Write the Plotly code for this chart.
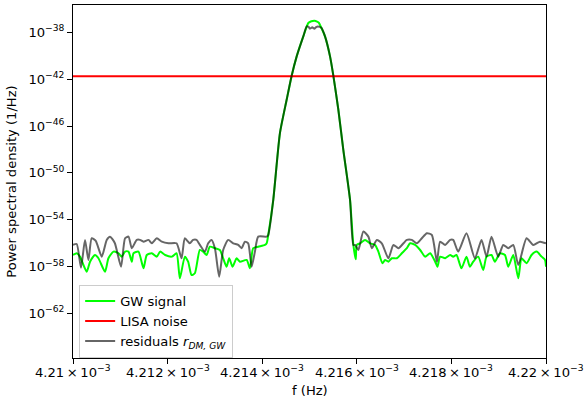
import plotly.graph_objects as go

# ---------------- data ----------------
# GW signal: frequency (Hz) and log10 PSD (1/Hz)
gw_freq = [
    4.210000e-3, 4.210078e-3, 4.210148e-3, 4.210290e-3, 4.210360e-3, 4.210466e-3, 4.210538e-3,
    4.210677e-3, 4.210749e-3, 4.210855e-3, 4.210961e-3, 4.211031e-3, 4.211101e-3, 4.211173e-3,
    4.211243e-3, 4.211279e-3, 4.211384e-3, 4.211490e-3, 4.211560e-3, 4.211666e-3, 4.211772e-3,
    4.211842e-3, 4.211948e-3, 4.212089e-3, 4.212189e-3, 4.212259e-3, 4.212365e-3, 4.212434e-3,
    4.212506e-3, 4.212576e-3, 4.212682e-3, 4.212752e-3, 4.212824e-3, 4.212894e-3, 4.213000e-3,
    4.213105e-3, 4.213175e-3, 4.213247e-3, 4.213302e-3, 4.213374e-3, 4.213459e-3, 4.213529e-3,
    4.213671e-3, 4.213740e-3, 4.213810e-3, 4.213916e-3, 4.214058e-3, 4.214094e-3, 4.214128e-3,
    4.214234e-3, 4.214375e-3, 4.214517e-3, 4.214623e-3, 4.214729e-3, 4.214869e-3, 4.214975e-3,
    4.215040e-3, 4.215102e-3, 4.215160e-3, 4.215201e-3, 4.215250e-3, 4.215328e-3, 4.215434e-3,
    4.215504e-3, 4.215610e-3, 4.215715e-3, 4.215857e-3, 4.215927e-3, 4.215978e-3, 4.215999e-3,
    4.216069e-3, 4.216175e-3, 4.216281e-3, 4.216387e-3, 4.216456e-3, 4.216541e-3, 4.216598e-3,
    4.216668e-3, 4.216740e-3, 4.216846e-3, 4.216952e-3, 4.217058e-3, 4.217127e-3, 4.217233e-3,
    4.217339e-3, 4.217445e-3, 4.217551e-3, 4.217657e-3, 4.217705e-3, 4.217762e-3, 4.217868e-3,
    4.217974e-3, 4.218038e-3, 4.218108e-3, 4.218213e-3, 4.218319e-3, 4.218391e-3, 4.218461e-3,
    4.218567e-3, 4.218673e-3, 4.218743e-3, 4.218848e-3, 4.218920e-3, 4.219026e-3, 4.219132e-3,
    4.219202e-3, 4.219308e-3, 4.219414e-3, 4.219484e-3, 4.219589e-3, 4.219695e-3, 4.219801e-3,
    4.219907e-3, 4.219979e-3, 4.220000e-3,
]
gw_log10_psd = [
    -57.02, -56.87, -57.16, -58.45, -57.59, -57.02, -57.30,
    -58.45, -57.30, -56.73, -56.87, -57.16, -56.73, -56.73,
    -57.59, -56.87, -56.73, -58.15, -57.02, -56.87, -57.16,
    -56.73, -57.02, -57.16, -56.87, -59.01, -57.16, -57.59,
    -58.73, -58.58, -56.59, -56.73, -57.02, -56.31, -56.44,
    -56.59, -57.30, -58.02, -57.30, -58.02, -57.30, -57.59,
    -57.44, -58.15, -56.44, -56.31, -56.16, -56.02, -55.31,
    -52.31, -46.61, -43.76, -41.70, -40.05, -38.34, -37.20,
    -37.05, -37.00, -37.08, -37.20, -37.60, -38.34, -40.05,
    -41.70, -44.61, -48.03, -52.31, -56.16, -57.38, -56.16,
    -56.02, -55.73, -56.02, -56.16, -56.73, -57.73, -57.44,
    -57.59, -57.30, -57.30, -56.87, -56.44, -56.02, -56.16,
    -56.59, -57.16, -56.87, -57.59, -58.02, -57.16, -57.30,
    -57.02, -57.16, -57.02, -58.15, -57.16, -58.02, -57.59,
    -57.16, -58.30, -57.16, -57.02, -57.59, -56.87, -57.02,
    -58.02, -57.02, -59.01, -57.30, -57.73, -57.02, -56.73,
    -57.16, -57.44, -58.02,
]

# LISA noise level (flat)
lisa_freq = [4.210e-3, 4.220e-3]
lisa_psd = [1.8e-42, 1.8e-42]

# residuals r_DM,GW
res_freq = [
    4.210000e-3, 4.210078e-3, 4.210169e-3, 4.210254e-3, 4.210326e-3, 4.210396e-3, 4.210481e-3,
    4.210608e-3, 4.210713e-3, 4.210783e-3, 4.210883e-3, 4.211016e-3, 4.211101e-3, 4.211173e-3,
    4.211243e-3, 4.211348e-3, 4.211418e-3, 4.211490e-3, 4.211596e-3, 4.211666e-3, 4.211772e-3,
    4.211878e-3, 4.212019e-3, 4.212189e-3, 4.212295e-3, 4.212365e-3, 4.212470e-3, 4.212540e-3,
    4.212612e-3, 4.212682e-3, 4.212788e-3, 4.212858e-3, 4.212930e-3, 4.213000e-3, 4.213091e-3,
    4.213175e-3, 4.213281e-3, 4.213387e-3, 4.213493e-3, 4.213565e-3, 4.213635e-3, 4.213704e-3,
    4.213776e-3, 4.213846e-3, 4.213916e-3, 4.214094e-3, 4.214128e-3, 4.214234e-3, 4.214375e-3,
    4.214517e-3, 4.214623e-3, 4.214729e-3, 4.214869e-3, 4.214941e-3, 4.214985e-3, 4.215011e-3,
    4.215059e-3, 4.215102e-3, 4.215140e-3, 4.215174e-3, 4.215250e-3, 4.215328e-3, 4.215434e-3,
    4.215504e-3, 4.215610e-3, 4.215715e-3, 4.215857e-3, 4.215927e-3, 4.215963e-3, 4.216033e-3,
    4.216139e-3, 4.216245e-3, 4.216317e-3, 4.216423e-3, 4.216528e-3, 4.216668e-3, 4.216774e-3,
    4.216880e-3, 4.216986e-3, 4.217058e-3, 4.217163e-3, 4.217269e-3, 4.217375e-3, 4.217481e-3,
    4.217587e-3, 4.217693e-3, 4.217762e-3, 4.217868e-3, 4.217974e-3, 4.218038e-3, 4.218143e-3,
    4.218319e-3, 4.218497e-3, 4.218637e-3, 4.218743e-3, 4.218848e-3, 4.218990e-3, 4.219096e-3,
    4.219202e-3, 4.219308e-3, 4.219414e-3, 4.219589e-3, 4.219731e-3, 4.219873e-3, 4.220000e-3,
]
res_log10_psd = [
    -56.16, -56.08, -58.10, -55.73, -57.44, -55.59, -55.82,
    -57.16, -55.73, -55.45, -55.99, -58.02, -55.59, -55.45,
    -56.44, -55.73, -55.73, -55.88, -55.73, -56.02, -55.59,
    -55.88, -56.02, -56.02, -57.30, -55.59, -56.02, -55.73,
    -55.73, -56.16, -56.73, -56.02, -55.73, -56.44, -58.87,
    -56.59, -55.73, -56.02, -56.16, -56.44, -55.88, -56.02,
    -58.02, -56.73, -55.45, -55.45, -55.31, -52.31, -46.61,
    -43.76, -41.70, -40.05, -38.34, -37.49, -37.55, -37.68,
    -37.57, -37.68, -37.55, -37.49, -37.60, -38.34, -40.05,
    -41.70, -44.61, -48.03, -52.31, -56.16, -56.16, -56.59,
    -55.02, -55.45, -56.44, -55.73, -56.02, -57.30, -56.16,
    -56.44, -56.02, -55.73, -55.73, -56.02, -55.59, -55.16,
    -55.31, -57.59, -55.88, -56.16, -55.73, -55.73, -56.73,
    -55.16, -57.30, -55.73, -57.16, -55.45, -57.16, -56.16,
    -56.44, -56.16, -57.87, -55.59, -56.16, -55.88, -56.02,
]

x_tickvals = [4.210e-3, 4.212e-3, 4.214e-3, 4.216e-3, 4.218e-3, 4.220e-3]
x_ticktext = ["4.21", "4.212", "4.214", "4.216", "4.218", "4.22"]
y_tick_exponents = [-38, -42, -46, -50, -54, -58, -62]

# ---------------- figure ----------------
FONT = "DejaVu Sans"
FS = 13.1

fig = go.Figure()
fig.add_trace(go.Scatter(
    x=gw_freq, y=[10 ** v for v in gw_log10_psd], mode="lines",
    name="GW signal", line=dict(color="#00ff00", width=2, shape="spline", smoothing=0.6)))
fig.add_trace(go.Scatter(
    x=lisa_freq, y=lisa_psd, mode="lines",
    name="LISA noise", line=dict(color="#ff0000", width=2)))
fig.add_trace(go.Scatter(
    x=res_freq, y=[10 ** v for v in res_log10_psd], mode="lines",
    name="residuals <i>r</i><sub><i>DM, GW</i></sub>",
    line=dict(color="rgba(0,0,0,0.6)", width=2, shape="spline", smoothing=0.6)))

# x tick labels as text annotations centred under each tick
annotations = []
for v, t in zip(x_tickvals, x_ticktext):
    annotations.append(dict(
        x=v, xref="x", y=0, yref="paper", xanchor="center", yanchor="middle",
        yshift=-13, showarrow=False, text=t + "\u2009×\u200910<sup>−3</sup>",
        font=dict(family=FONT, size=FS, color="black")))
annotations.append(dict(
    x=0.5, xref="paper", y=0, yref="paper", xanchor="center", yanchor="middle",
    yshift=-32, showarrow=False, text="f (Hz)",
    font=dict(family=FONT, size=FS, color="black")))

fig.update_layout(
    width=584, height=398,
    margin=dict(l=73, r=38, t=5, b=40, autoexpand=False),
    plot_bgcolor="white", paper_bgcolor="white",
    font=dict(family=FONT, size=FS, color="black"),
    showlegend=True,
    legend=dict(
        x=0.013, y=0.0, xanchor="left", yanchor="bottom",
        bgcolor="rgba(255,255,255,0.8)", bordercolor="#cccccc", borderwidth=1,
        font=dict(family=FONT, size=FS), tracegroupgap=0,
    ),
    annotations=annotations,
)

fig.update_xaxes(
    range=[4.210e-3, 4.220e-3],
    tickmode="array", tickvals=x_tickvals, showticklabels=False,
    ticks="outside", ticklen=5, tickwidth=0.8, tickcolor="black",
    showline=True, linecolor="black", linewidth=1, mirror=True,
    showgrid=False, zeroline=False, automargin=False,
)
fig.update_yaxes(
    type="log", range=[-65.82, -35.66],
    tickmode="array", tickvals=[10.0 ** e for e in y_tick_exponents],
    ticktext=["10<sup>−%d</sup>" % (-e) for e in y_tick_exponents],
    ticks="outside", ticklen=5, tickwidth=0.8, tickcolor="black",
    showline=True, linecolor="black", linewidth=1, mirror=True,
    showgrid=False, zeroline=False, automargin=False,
    title=dict(text="Power spectral density (1/Hz)", standoff=8, font=dict(size=FS)),
)

fig.write_html("out.html")
